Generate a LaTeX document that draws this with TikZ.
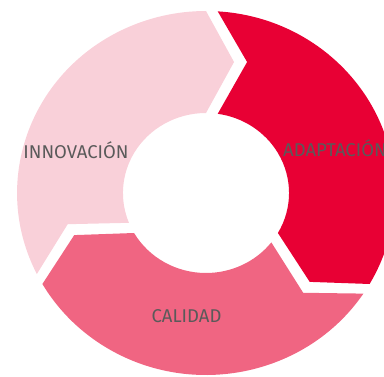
\documentclass[tikz,border=0pt]{standalone}
\usepackage{fontspec}
\setmainfont{Fira Sans}
\definecolor{segA}{RGB}{249,208,217}
\definecolor{segB}{RGB}{232,0,52}
\definecolor{segC}{RGB}{240,101,130}
\definecolor{txtgray}{RGB}{90,90,90}
\newcommand\ringseg[2]{%
  \fill[#2] (#1:182) -- ({#1-11.65}:133.75) -- (#1:80)
    arc[start angle=#1, end angle={#1+120-8.12}, radius=80]
    -- ({#1+120-16.82}:136.85) -- ({#1+120-3.56}:182)
    arc[start angle={#1+120-3.56}, end angle=#1, radius=182] -- cycle;}
\begin{document}
\begin{tikzpicture}[x=1pt,y=1pt,
  lbl/.style={text=txtgray, inner sep=0pt, anchor=base, font=\fontsize{18.5}{20}\selectfont}]
\useasboundingbox (0,0) rectangle (384,376);
\begin{scope}[shift={(206,183)}, xscale=1.038]
  \ringseg{90}{segA}
  \ringseg{-30}{segB}
  \ringseg{210}{segC}
\end{scope}
\node[lbl] (innov) at (76,217.5) {INNOVACIÓN};
\node[lbl, anchor=base west] (adapt) at (283,219) {ADAPTACIÓN};
\node[lbl] (cal) at (186.5,54) {CALIDAD};
\end{tikzpicture}
\end{document}
